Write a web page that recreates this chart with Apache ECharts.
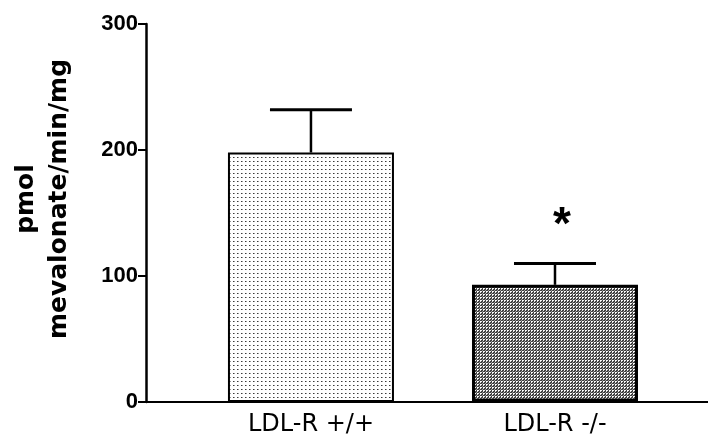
<!DOCTYPE html>
<html>
<head>
<meta charset="utf-8">
<script src="https://cdn.jsdelivr.net/npm/echarts@6/dist/echarts.min.js"></script>
<style>
  html, body { margin: 0; padding: 0; background: #fff; }
  #chart { width: 708px; height: 445px; }
</style>
</head>
<body>
<div id="chart"></div>
<script>
// HMG-CoA reductase activity by genotype
const categories = ['LDL-R +/+', 'LDL-R -/-'];
const means = [198, 93];
const errors = [34, 17];
const significance = ['', '*'];
const yTicks = [0, 100, 200, 300];

// Small repeating fills: light stipple and dense grey mesh
function makePattern(size, bg, pixels) {
  const c = document.createElement('canvas');
  c.width = size; c.height = size;
  const g = c.getContext('2d');
  g.fillStyle = bg; g.fillRect(0, 0, size, size);
  pixels.forEach(function (p) { g.fillStyle = p[2]; g.fillRect(p[0], p[1], 1, 1); });
  return { image: c, repeat: 'repeat' };
}
const stipple = makePattern(4, '#ffffff', [[1, 1, '#3a3a3a'], [2, 1, '#9a9a9a']]);
const mesh = makePattern(3, '#404040', [[0, 0, '#ffffff'], [1, 0, '#f0f0f0'], [0, 1, '#e8e8e8'], [2, 2, '#9a9a9a']]);
const fills = [stipple, mesh];

const chart = echarts.init(document.getElementById('chart'));

chart.setOption({
  animation: false,
  backgroundColor: '#fff',
  grid: { left: 146, right: 0, top: 24, bottom: 43, containLabel: false },
  xAxis: {
    type: 'value',
    min: -0.676,
    max: 1.627,
    splitLine: { show: false },
    axisLine: { show: true, onZero: false, lineStyle: { color: '#000', width: 2 } },
    axisTick: { show: false },
    axisLabel: {
      customValues: categories.map(function (_, i) { return i; }),
      formatter: function (v) { return categories[Math.round(v)] || ''; },
      margin: 11,
      fontFamily: 'DejaVu Sans, sans-serif',
      fontSize: 24,
      color: '#000'
    }
  },
  yAxis: {
    type: 'value',
    min: yTicks[0],
    max: yTicks[yTicks.length - 1],
    interval: 100,
    splitLine: { show: false },
    axisLine: { show: true, onZero: false, lineStyle: { color: '#000', width: 2.5 } },
    axisTick: { show: true, length: 8, lineStyle: { color: '#000', width: 2 } },
    axisLabel: {
      margin: 8,
      fontFamily: 'Liberation Sans, Arial, sans-serif',
      fontWeight: 'bold',
      fontSize: 22,
      color: '#000'
    },
    name: 'pmol\nmevalonate/min/mg',
    nameLocation: 'middle',
    nameGap: 70,
    nameTextStyle: {
      fontFamily: 'DejaVu Sans, sans-serif',
      fontWeight: 'bold',
      fontSize: 25,
      lineHeight: 33,
      color: '#000',
      padding: [0, 0, 0, 28]
    }
  },
  series: [
    {
      type: 'bar',
      barWidth: 166,
      data: means.map(function (m, i) {
        return {
          value: [i, m],
          itemStyle: { color: fills[i], borderColor: '#000', borderWidth: i === 0 ? 2 : 3 }
        };
      }),
      z: 2
    },
    {
      type: 'custom',
      z: 3,
      data: means.map(function (m, i) { return [i, m, errors[i]]; }),
      renderItem: function (params, api) {
        const i = api.value(0);
        const base = api.coord([i, api.value(1)]);
        const top = api.coord([i, api.value(1) + api.value(2)]);
        const half = api.size([1, 0])[0] * 0.168;
        const children = [
          { type: 'line', shape: { x1: top[0], y1: base[1], x2: top[0], y2: top[1] }, style: { stroke: '#000', lineWidth: 2.5 } },
          { type: 'line', shape: { x1: top[0] - half, y1: top[1], x2: top[0] + half, y2: top[1] }, style: { stroke: '#000', lineWidth: 3 } }
        ];
        const mark = significance[params.dataIndex];
        if (mark) {
          children.push({
            type: 'text',
            x: top[0] + 7,
            y: top[1] - 37,
            style: { text: mark, fontFamily: 'Liberation Sans, Arial, sans-serif', fontWeight: 'bold', fontSize: 46, fill: '#000', align: 'center', verticalAlign: 'middle' }
          });
        }
        return { type: 'group', children: children };
      }
    }
  ]
});
</script>
</body>
</html>
